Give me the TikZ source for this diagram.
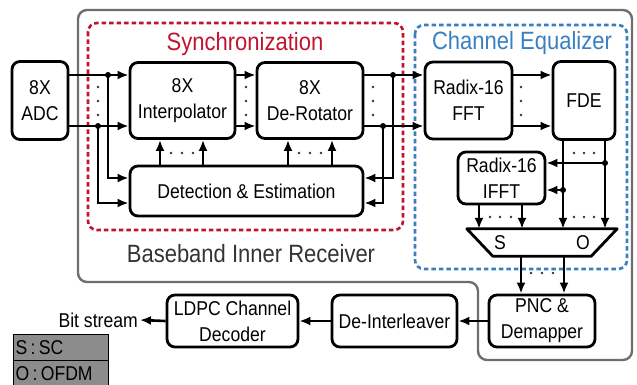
\documentclass[tikz,border=0pt]{standalone}
\usepackage{fontspec}
\setmainfont[FakeStretch=0.88]{Liberation Sans}
\usetikzlibrary{arrows.meta,calc}
\definecolor{syncred}{HTML}{C0142E}
\definecolor{eqblue}{HTML}{3A7FC1}
\definecolor{framegray}{HTML}{6E6E6E}
\definecolor{keygray}{HTML}{8C8C8C}

\begin{document}
\begin{tikzpicture}[x=1pt,y=-1pt,
  blk/.style={draw, line width=2.8pt, rounded corners=8pt, inner sep=0pt,
              align=center, font=\fontsize{20}{26}\selectfont},
  arr/.style={line width=2.6pt, -{Latex[length=11pt,width=9pt]}},
  title/.style={anchor=base, inner sep=0pt, font=\fontsize{25}{30}\selectfont},
  keybox/.style={draw, line width=1.2pt, fill=keygray, anchor=north west,
                 inner sep=2pt, text width=91pt, minimum height=26pt,
                 align=left, font=\fontsize{20}{24}\selectfont},
  pip/.style={fill=black!80},
  ]
\useasboundingbox (0,0) rectangle (637,385);

% receiver frame and the two sub-system regions
\draw[framegray, line width=2.4pt, rounded corners=9pt]
  (300,10) -- (632,10) -- (632,360) -- (478,360) -- (478,282)
  -- (78,282) -- (78,10) -- cycle;
\draw[syncred, line width=2.6pt, dash pattern=on 4.5pt off 3pt, rounded corners=9pt]
  (88,23) rectangle (403,230);
\draw[eqblue, line width=2.6pt, dash pattern=on 4.5pt off 3pt, rounded corners=9pt]
  (415,25) rectangle (627,269);

\node[title, text=syncred] (synclbl) at (245,51) {Synchronization};
\node[title, text=eqblue] (eqlbl) at (522,50) {Channel Equalizer};
\node[title, text=black!80] (rxlbl) at (251,262) {Baseband Inner Receiver};

% processing blocks
\node[blk, minimum width=56pt,  minimum height=78pt] (adc)    at (40,100.5)   {8X\\ADC};
\node[blk, minimum width=105pt, minimum height=76pt] (interp) at (182.5,100.5) {8X\\Interpolator};
\node[blk, minimum width=106pt, minimum height=76pt] (derot)  at (310,100.5)  {8X\\De-Rotator};
\node[blk, minimum width=233pt, minimum height=50pt] (det)    at (246.5,191)  {Detection \& Estimation};
\node[blk, minimum width=87pt,  minimum height=77pt] (fft)    at (468.5,100.5) {Radix-16\\FFT};
\node[blk, minimum width=62pt,  minimum height=78pt] (fde)    at (584,100.5)  {FDE};
\node[blk, minimum width=87pt,  minimum height=52pt] (ifft)   at (501.5,178)  {Radix-16\\IFFT};
\node[blk, minimum width=106pt, minimum height=52pt] (pnc)    at (542,321)    {PNC \&\\Demapper};
\node[blk, minimum width=125pt, minimum height=52pt] (deint)  at (394.5,321)  {De-Interleaver};
\node[blk, minimum width=131pt, minimum height=52pt] (ldpc)   at (232.5,321)  {LDPC Channel\\Decoder};
\node[inner sep=0pt, anchor=east, font=\fontsize{20}{24}\selectfont] (bits) at (138,320) {Bit stream};

% SC / OFDM selector
\node[minimum width=150pt, minimum height=27pt, inner sep=0pt] (mux) at (542,242.5) {};
\draw[line width=2.8pt, line join=round]
  (mux.north west) -- (mux.north east) -- ([xshift=-26pt]mux.south east)
  -- ([xshift=26pt]mux.south west) -- cycle;
\node[font=\fontsize{20}{24}\selectfont, inner sep=0pt] (muxs) at (500,243) {S};
\node[font=\fontsize{20}{24}\selectfont, inner sep=0pt] (muxo) at (583,243) {O};

% legend
\node[keybox] (keys) at (13,334) {S\,:\,SC};
\node[keybox] (keyo) at (13,360) {O\,:\,OFDM};

% ADC -> interpolator, tapped to detection
\draw[arr] ([yshift=25.5pt]adc.east) -- ([yshift=25.5pt]interp.west);
\draw[arr] ([yshift=-25.5pt]adc.east) -- ([yshift=-25.5pt]interp.west);
\coordinate (ja) at (108,75);
\coordinate (jb) at (98,126);
\draw[arr] (ja) |- ([yshift=13pt]det.west);
\draw[arr] (jb) |- ([yshift=-12pt]det.west);
\fill (ja) circle (3pt);
\fill (jb) circle (3pt);
\foreach \y in {87,101,115} \fill[pip] (98,\y) circle (1.3pt);

% interpolator -> de-rotator
\draw[arr] ([yshift=25.5pt]interp.east) -- ([yshift=25.5pt]derot.west);
\draw[arr] ([yshift=-25.5pt]interp.east) -- ([yshift=-25.5pt]derot.west);
\foreach \y in {87,101,115} \fill[pip] (246,\y) circle (1.3pt);

% detection -> interpolator and de-rotator
\foreach \x in {160,203,288,332}
  \draw[arr] (det.north -| \x,0) -- (interp.south -| \x,0);
\foreach \x in {171,182,193,299,310,321} \fill[pip] (\x,153) circle (1.3pt);

% de-rotator -> FFT, fed back to detection
\draw[arr] ([yshift=25.5pt]derot.east) -- ([yshift=25.5pt]fft.west);
\draw[arr] ([yshift=-25.5pt]derot.east) -- ([yshift=-25.5pt]fft.west);
\coordinate (jc) at (393,75);
\coordinate (jd) at (383,126);
\draw[arr] (jc) |- ([yshift=13pt]det.east);
\draw[arr] (jd) |- ([yshift=-12pt]det.east);
\fill (jc) circle (3pt);
\fill (jd) circle (3pt);
\foreach \y in {87,101,115} \fill[pip] (373,\y) circle (1.3pt);

% FFT -> FDE
\draw[arr] ([yshift=25.5pt]fft.east) -- ([yshift=25.5pt]fde.west);
\draw[arr] ([yshift=-25.5pt]fft.east) -- ([yshift=-25.5pt]fde.west);
\foreach \y in {87,101,115} \fill[pip] (521,\y) circle (1.3pt);

% FDE -> selector, tapped to IFFT
\coordinate (ca) at (563,0);
\coordinate (cb) at (605,0);
\draw[arr] (fde.south -| ca) -- (mux.north -| ca);
\draw[arr] (fde.south -| cb) -- (mux.north -| cb);
\coordinate (je) at (605,163);
\coordinate (jf) at (563,190);
\draw[arr] (je) -- (je -| ifft.east);
\draw[arr] (jf) -- (jf -| ifft.east);
\fill (je) circle (3pt);
\fill (jf) circle (3pt);
\foreach \x in {574,584,594} {
  \fill[pip] (\x,153) circle (1.3pt);
  \fill[pip] (\x,217) circle (1.3pt);
}

% IFFT -> selector
\foreach \x in {479,522}
  \draw[arr] (ifft.south -| \x,0) -- (mux.north -| \x,0);
\foreach \x in {490,500,511} \fill[pip] (\x,217) circle (1.3pt);

% selector -> PNC & demapper
\foreach \x in {521,564}
  \draw[arr] (mux.south -| \x,0) -- (pnc.north -| \x,0);
\foreach \x in {531,542,553} \fill[pip] (\x,273) circle (1.3pt);

% back end
\draw[arr] (pnc.west) -- (deint.east);
\draw[arr] (deint.west) -- (ldpc.east);
\draw[arr] (ldpc.west) -- ([xshift=2pt]bits.east);
\end{tikzpicture}
\end{document}
